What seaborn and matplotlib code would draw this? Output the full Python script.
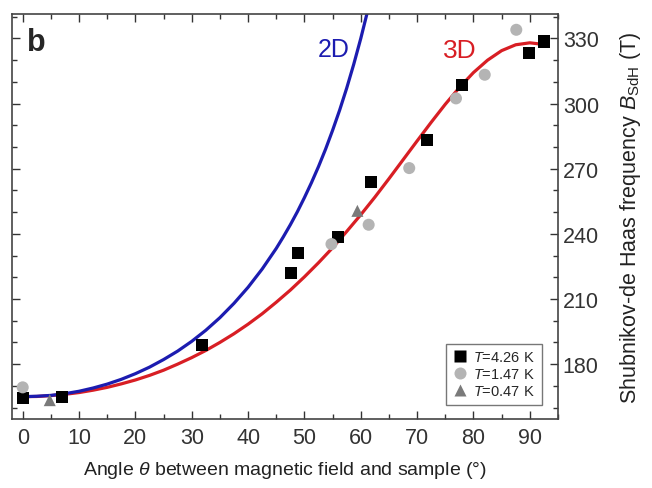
import numpy as np
import pandas as pd
import seaborn as sns
import matplotlib.pyplot as plt
from matplotlib.ticker import MultipleLocator

angle_426 = [0, 6.9, 31.8, 47.7, 48.8, 56.0, 61.9, 71.7, 78.0, 89.9, 92.5]
freq_426 = [164.3, 164.7, 188.7, 221.9, 231.0, 238.4, 263.7, 283.3, 308.6, 323.3, 328.6]

angle_147 = [0, 54.8, 61.4, 68.6, 76.9, 82.0, 87.6]
freq_147 = [169.3, 235.3, 244.2, 270.3, 302.4, 313.3, 334.0]

angle_047 = [4.8, 59.4]
freq_047 = [163.4, 250.6]

# model curves
angle_2d = [0, 2.5, 5, 7.5, 10, 12.5, 15, 17.5, 20, 22.5, 25, 27.5, 30, 32.5,
            35, 37.5, 40, 42.5, 45, 46.25, 47.5, 48.75, 50, 51.25, 52.5, 53.75,
            55, 56.25, 57.5, 58.75, 60, 61.25, 62.5]
freq_2d = [165.0, 165.2, 165.6, 166.4, 167.5, 169.0, 170.8, 173.0, 175.6, 178.6,
           182.1, 186.0, 190.5, 195.6, 201.4, 208.0, 215.4, 223.8, 233.3, 238.6,
           244.2, 250.2, 256.7, 263.6, 271.0, 279.0, 287.7, 297.0, 307.1, 318.1,
           330.0, 343.0, 357.4]

angle_3d = [0, 2.5, 5, 7.5, 10, 12.5, 15, 17.5, 20, 22.5, 25, 27.5, 30, 32.5,
            35, 37.5, 40, 42.5, 45, 47.5, 50, 52.5, 55, 57.5, 60, 62.5, 65, 67.5,
            70, 72.5, 75, 77.5, 80, 82.5, 85, 87.5, 90, 92]
freq_3d = [165.0, 165.1, 165.5, 166.1, 166.9, 168.0, 169.3, 170.9, 172.7, 174.8,
           177.2, 180.0, 183.0, 186.3, 190.0, 194.0, 198.4, 203.2, 208.5, 214.1,
           220.2, 226.7, 233.6, 241.1, 248.8, 256.9, 265.4, 274.1, 282.8, 291.4,
           299.7, 307.4, 314.3, 320.0, 324.4, 327.1, 328.0, 327.4]

sns.set_style("ticks")
plt.rcParams['font.family'] = ['Liberation Sans', 'DejaVu Sans']
plt.rcParams['mathtext.fontset'] = 'custom'
plt.rcParams['mathtext.rm'] = 'Liberation Sans'
plt.rcParams['mathtext.it'] = 'Liberation Sans:italic'

fig = plt.figure(figsize=(6.52, 4.89), dpi=100)
ax = fig.add_axes([0.0184, 0.141, 0.8374, 0.828])

blue = '#1c1cb0'
red = '#d81e24'

sns.lineplot(x=angle_3d, y=freq_3d, color=red, lw=2.3, ax=ax, sort=False)
sns.lineplot(x=angle_2d, y=freq_2d, color=blue, lw=2.3, ax=ax, sort=False)

df = pd.concat([
    pd.DataFrame({'angle': angle_426, 'freq': freq_426, 'T': '$T$=4.26 K'}),
    pd.DataFrame({'angle': angle_147, 'freq': freq_147, 'T': '$T$=1.47 K'}),
    pd.DataFrame({'angle': angle_047, 'freq': freq_047, 'T': '$T$=0.47 K'}),
])
sns.scatterplot(data=df, x='angle', y='freq', hue='T', style='T',
                palette=['black', '#b4b4b4', '#7a7a7a'],
                markers=['s', 'o', '^'], s=75, edgecolor='none', ax=ax, zorder=3)

ax.set_xlim(-1.9, 95)
ax.set_ylim(154.7, 341.2)
ax.xaxis.set_major_locator(MultipleLocator(10))
ax.xaxis.set_minor_locator(MultipleLocator(5))
ax.yaxis.set_major_locator(MultipleLocator(30))
ax.yaxis.set_minor_locator(MultipleLocator(10))
ax.yaxis.tick_right()
ax.yaxis.set_label_position('right')
ax.tick_params(which='both', direction='in', top=True, bottom=True,
               left=True, right=True, labelsize=15.5, colors='#333333')
ax.tick_params(which='major', length=6, width=1)
ax.tick_params(which='minor', length=3.5, width=1)
ax.tick_params(axis='x', pad=6)
for sp in ax.spines.values():
    sp.set_color('#444444')
    sp.set_linewidth(1.2)

ax.set_xlabel(r'Angle $\theta$ between magnetic field and sample (°)',
              fontsize=14, color='#222222', labelpad=8)
ax.set_ylabel(r'Shubnikov-de Haas frequency $B_{\mathrm{SdH}}$ (T)',
              fontsize=15.5, color='#222222', labelpad=14)

ax.text(0.027, 0.968, 'b', transform=ax.transAxes, fontsize=22,
        fontweight='bold', va='top', ha='left')
ax.text(0.56, 0.914, '2D', transform=ax.transAxes, fontsize=18,
        color=blue, va='center', ha='left')
ax.text(0.789, 0.911, '3D', transform=ax.transAxes, fontsize=19,
        color=red, va='center', ha='left')

leg = ax.legend(loc='lower right', bbox_to_anchor=(0.97, 0.035), fontsize=10.5,
                frameon=True, fancybox=False, handletextpad=0.4,
                borderpad=0.45, labelspacing=0.2, handlelength=1.0,
                borderaxespad=0)
leg.get_frame().set_edgecolor('#555555')
leg.get_frame().set_linewidth(1.0)

fig.savefig('out.png', dpi=100)
